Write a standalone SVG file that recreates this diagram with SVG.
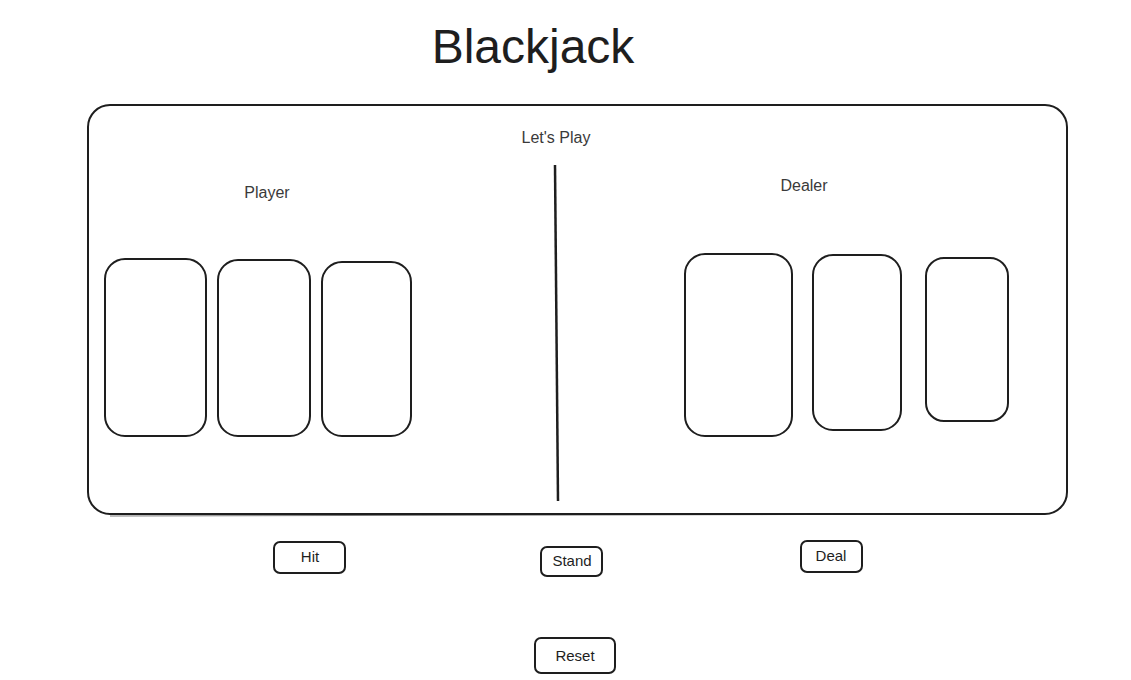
<svg xmlns="http://www.w3.org/2000/svg" width="1131" height="680" viewBox="0 0 1131 680">
<style>
.box{fill:none;stroke:#1e1e1e;stroke-width:2;stroke-linejoin:round}
.box2{fill:none;stroke:#1e1e1e;stroke-width:1;opacity:0.6}
.t{font-family:"Liberation Sans","DejaVu Sans",sans-serif;fill:#1e1e1e;text-anchor:middle}
.lbl{font-size:16px;fill:#3a3a3a}
.btn{font-size:15px}
</style>
<rect x="0" y="0" width="1131" height="680" fill="#ffffff"/>
<g id="title"><text class="t" x="533" y="63" font-size="48">Blackjack</text></g>
<g id="table">
  <rect class="box" x="88" y="105" width="979" height="409" rx="22"/>
  <path class="box2" d="M110 516 L1045 514"/>
  <text class="t lbl" x="556" y="143">Let's Play</text>
</g>
<g id="player">
  <text class="t lbl" x="267" y="198">Player</text>
  <rect class="box" x="105" y="259" width="101" height="177" rx="20"/>
  <rect class="box" x="218" y="260" width="92" height="176" rx="20"/>
  <rect class="box" x="322" y="262" width="89" height="174" rx="20"/>
</g>
<g id="dealer">
  <text class="t lbl" x="804" y="191">Dealer</text>
  <rect class="box" x="685" y="254" width="107" height="182" rx="20"/>
  <rect class="box" x="813" y="255" width="88" height="175" rx="20"/>
  <rect class="box" x="926" y="258" width="82" height="163" rx="18"/>
</g>
<g id="connectors">
  <path d="M555 165 L558 501" fill="none" stroke="#1e1e1e" stroke-width="2.5"/>
</g>
<g id="hit">
  <rect class="box" x="274" y="542" width="71" height="31" rx="6"/>
  <text class="t btn" x="310" y="562">Hit</text>
</g>
<g id="stand">
  <rect class="box" x="541" y="547" width="61" height="29" rx="6"/>
  <text class="t btn" x="572" y="566">Stand</text>
</g>
<g id="deal">
  <rect class="box" x="801" y="541" width="61" height="31" rx="6"/>
  <text class="t btn" x="831" y="561">Deal</text>
</g>
<g id="reset">
  <rect class="box" x="535" y="638" width="80" height="35" rx="6"/>
  <text class="t btn" x="575" y="661">Reset</text>
</g>
</svg>
